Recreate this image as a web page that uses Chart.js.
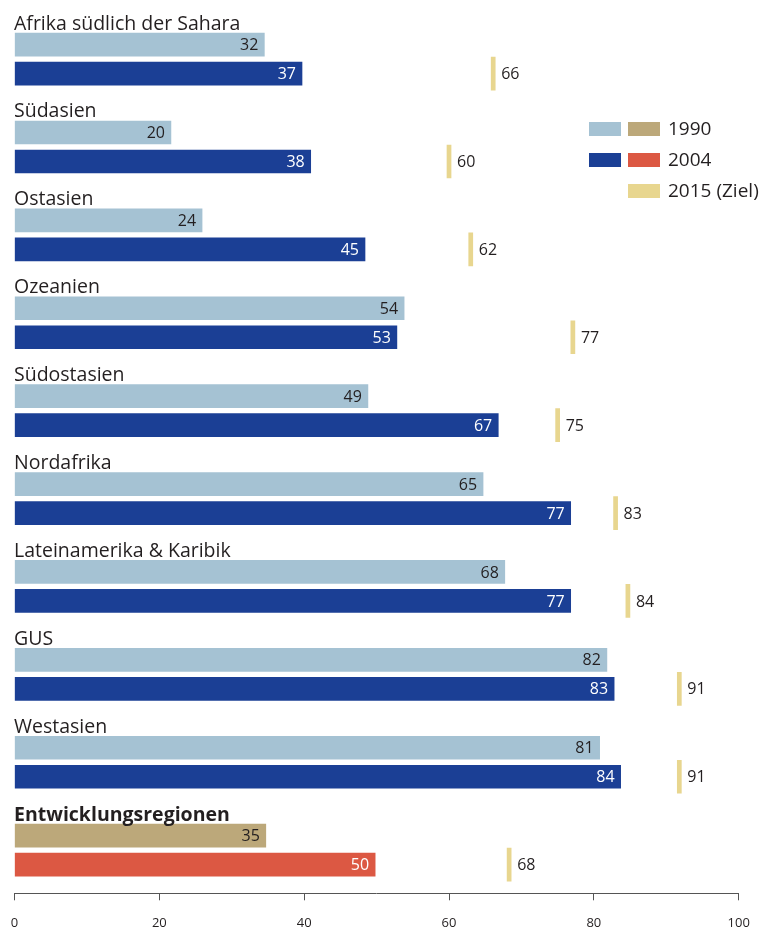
<!DOCTYPE html>
<html>
<head>
<meta charset="utf-8">
<script src="https://cdn.jsdelivr.net/npm/chart.js@4.4.1/dist/chart.umd.min.js"></script>
<style>
  html, body { margin: 0; padding: 0; background: #fff; }
  #wrap { position: relative; width: 776px; height: 928px; }
</style>
</head>
<body>
<div id="wrap"><canvas id="chart"></canvas></div>
<script>
// regions, top to bottom
const regions = [
  "Afrika südlich der Sahara", "Südasien", "Ostasien", "Ozeanien", "Südostasien",
  "Nordafrika", "Lateinamerika & Karibik", "GUS", "Westasien", "Entwicklungsregionen"
];
// bar lengths as drawn in the picture
const value1990 = [34.5, 21.6, 25.9, 53.8, 48.8, 64.7, 67.7, 81.8, 80.8, 34.7];
const value2004 = [39.7, 40.9, 48.4, 52.8, 66.8, 76.8, 76.8, 82.8, 83.7, 49.8];
const target2015 = [66.1, 60.0, 63.0, 77.1, 75.0, 83.0, 84.7, 91.8, 91.8, 68.3];
// numbers printed next to the bars
const label1990 = ["32", "20", "24", "54", "49", "65", "68", "82", "81", "35"];
const label2004 = ["37", "38", "45", "53", "67", "77", "77", "83", "84", "50"];
const label2015 = ["66", "60", "62", "77", "75", "83", "84", "91", "91", "68"];
const xTicks = [0, 20, 40, 60, 80, 100];
const legendLabels = ["1990", "2004", "2015 (Ziel)"];

const C1990 = "#a5c2d3", C2004 = "#1b3f95";
const CTOTAL1990 = "#bca87a", CTOTAL2004 = "#dc5843";
const CTARGET = "#e8d68f";
const TEXT = "#231f20";
const FONT = '"Open Sans", "Noto Sans", sans-serif';

// vertical layout inside one group (in group units)
const OFF_BAR1 = 0.171, OFF_BAR2 = 0.501;
const last = regions.length - 1;

const overlay = {
  id: "overlay",
  afterDatasetsDraw(chart) {
    const ctx = chart.ctx;
    const ys = chart.scales.y;
    ctx.save();

    // group titles
    ctx.textAlign = "left";
    ctx.textBaseline = "alphabetic";
    ctx.fillStyle = TEXT;
    regions.forEach((name, i) => {
      ctx.font = (i === last ? "bold " : "") + "19.5px " + FONT;
      ctx.fillText(name, 14, ys.getPixelForValue(i));
    });

    // values inside bars
    ctx.font = "16px " + FONT;
    ctx.textAlign = "right";
    ctx.textBaseline = "middle";
    chart.getDatasetMeta(0).data.forEach((bar, i) => {
      ctx.fillStyle = TEXT;
      ctx.fillText(label1990[i], bar.x - 6, bar.y + 1);
    });
    chart.getDatasetMeta(1).data.forEach((bar, i) => {
      ctx.fillStyle = "#ffffff";
      ctx.fillText(label2004[i], bar.x - 6, bar.y + 1);
    });

    // target labels
    ctx.textAlign = "left";
    ctx.fillStyle = TEXT;
    chart.getDatasetMeta(2).data.forEach((bar, i) => {
      ctx.fillText(label2015[i], bar.x + 6, bar.y + 1);
    });

    // legend
    const rows = [
      [C1990, CTOTAL1990],
      [C2004, CTOTAL2004],
      [null, CTARGET]
    ];
    ctx.font = "19px " + FONT;
    rows.forEach((r, k) => {
      const top = 122 + k * 31;
      if (r[0]) { ctx.fillStyle = r[0]; ctx.fillRect(589, top, 32, 14); }
      ctx.fillStyle = r[1]; ctx.fillRect(628, top, 32, 14);
      ctx.fillStyle = TEXT;
      ctx.fillText(legendLabels[k], 668, top + 8);
    });

    ctx.restore();
  }
};

const data = {
  datasets: [
    {
      label: "1990",
      data: value1990.map((v, i) => ({ x: v, y: i + OFF_BAR1 })),
      backgroundColor: value1990.map((v, i) => i === last ? CTOTAL1990 : C1990),
      barThickness: 23,
      grouped: false
    },
    {
      label: "2004",
      data: value2004.map((v, i) => ({ x: v, y: i + OFF_BAR2 })),
      backgroundColor: value2004.map((v, i) => i === last ? CTOTAL2004 : C2004),
      barThickness: 23,
      grouped: false
    },
    {
      label: "2015 (Ziel)",
      data: target2015.map((v, i) => ({ x: [v - 0.28, v + 0.28], y: i + OFF_BAR2 })),
      backgroundColor: CTARGET,
      barThickness: 33,
      grouped: false
    }
  ]
};

new Chart(document.getElementById("chart"), {
  type: "bar",
  data: data,
  options: {
    indexAxis: "y",
    responsive: true,
    maintainAspectRatio: false,
    animation: false,
    layout: { padding: { left: 14.5, right: 37.3, top: 0, bottom: -17.3 } },
    plugins: {
      legend: { display: false },
      tooltip: { enabled: false }
    },
    scales: {
      y: {
        type: "linear",
        display: false,
        reverse: true,
        offset: false,
        min: -0.336,
        max: 9.827
      },
      x: {
        type: "linear",
        min: 0,
        max: 100,
        afterBuildTicks: (axis) => { axis.ticks = xTicks.map(v => ({ value: v })); },
        afterFit: (axis) => { axis.paddingLeft = 4; axis.paddingRight = 12; },
        ticks: {
          color: TEXT,
          font: { family: FONT, size: 13, lineHeight: 1 },
          padding: 16,
          maxRotation: 0
        },
        grid: {
          drawOnChartArea: false,
          drawTicks: true,
          tickLength: 7,
          color: "#555555",
          tickColor: "#555555",
          lineWidth: 1
        },
        border: { display: true, color: "#555555", width: 1 }
      }
    }
  },
  plugins: [overlay]
});
</script>
</body>
</html>
